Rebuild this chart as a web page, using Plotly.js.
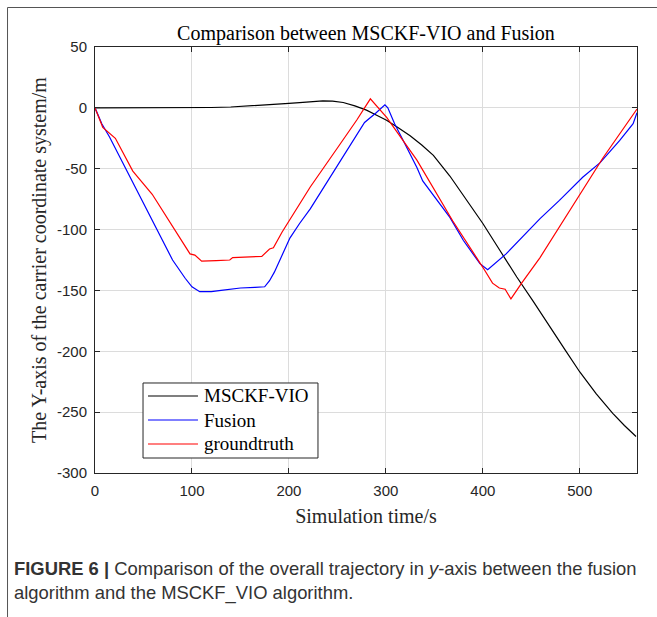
<!DOCTYPE html>
<html>
<head>
<meta charset="utf-8">
<script src="https://cdn.plot.ly/plotly-3.0.1.min.js"></script>
<style>
html,body{margin:0;padding:0;background:#fff;}
#chart{width:657px;height:617px;}
</style>
</head>
<body>
<div id="chart"></div>
<script>
// MSCKF-VIO
var vioT = [0,50,100,120,140,160,180,200,211,220,235,245,256,268,280,290,300.7,312,325,337,349,366,383,400,417.5,435,452,469,485,500,517,534,546,558];
var vioY = [0,0,0.1,0.3,0.7,1.5,2.5,3.7,4.3,5,5.7,5.5,4.4,1.6,-1.9,-5.8,-10.1,-16,-23,-30.5,-39,-56,-75,-95,-117,-139,-159,-180,-199,-217,-235,-251,-261,-270];
// Fusion
var fusT = [0,7,15,36,57,80,93,100,108,120,130,150,165,175,180,185,201,211,222,245,278,290,299,302,309,318,332,338,366,380,397,405,424,459,479,503,521,541,555,559];
var fusY = [0,-13,-24,-57,-90,-125,-140,-147,-151,-151,-150,-148,-147.5,-147,-142,-135,-107,-95,-83,-54,-12,-4,2.5,0,-13,-27,-49,-60,-90,-109,-128,-133,-120,-91,-76,-57,-45,-27,-13,-4];
// groundtruth
var gtT = [0,8,21,39,59,85,98,103,110,125,139,142,160,172,180,184,193,211,222,250,270,284,290,301,332,369,400,410,417,423,429,440,459,500,524,559];
var gtY = [0,-16,-25,-52,-71,-103,-120,-121,-126,-125.5,-125,-123,-122.5,-122,-116,-115,-102,-79,-65,-33,-10,7.4,2,-8,-43,-93,-131,-144,-148,-149,-157,-144,-123,-71,-41,-1];

var seriesNames = ["MSCKF-VIO", "Fusion", "groundtruth"];
var seriesColors = ["#000000", "#0000ff", "#ff0000"];

var xTicks = [0,100,200,300,400,500];
var yTicks = [50,0,-50,-100,-150,-200,-250,-300];

var serif = "Liberation Serif, Times New Roman, serif";
var sans = "Liberation Sans, Arial, sans-serif";

var xs = [vioT, fusT, gtT], ys = [vioY, fusY, gtY];
var traces = xs.map(function (t, i) {
  return {x: t, y: ys[i], name: seriesNames[i], mode: "lines", showlegend: false,
          line: {color: seriesColors[i], width: 1.2}};
});

var axisCommon = {
  showline: true, linecolor: "#262626", linewidth: 1, mirror: "ticks",
  ticks: "inside", ticklen: 5, tickcolor: "#262626",
  showgrid: true, gridcolor: "#dcdcdc", gridwidth: 1,
  zeroline: false, ticklabelstandoff: 4,
  tickfont: {family: sans, size: 15, color: "#262626"}
};

// custom legend (paper coordinates)
var legX0 = 0.0886, legX1 = 0.4114, legY0 = 0.0352, legY1 = 0.2113;
var legRowsY = [0.1808, 0.1244, 0.0681];
var shapes = [
  {type: "line", xref: "paper", yref: "paper", x0: -0.1614, x1: -0.1614, y0: -0.34, y1: 1.0927, line: {color: "#555", width: 1}},
  {type: "line", xref: "paper", yref: "paper", x0: -0.1614, x1: 1.04, y0: 1.0927, y1: 1.0927, line: {color: "#555", width: 1}},
  {type: "rect", xref: "paper", yref: "paper", x0: legX0, x1: legX1, y0: legY0, y1: legY1, fillcolor: "#ffffff", line: {color: "#262626", width: 1}}
];
var annotations = [];
seriesNames.forEach(function (n, i) {
  shapes.push({type: "line", xref: "paper", yref: "paper", x0: 0.0978, x1: 0.19, y0: legRowsY[i], y1: legRowsY[i], line: {color: seriesColors[i], width: 1.2}});
  annotations.push({xref: "paper", yref: "paper", x: 0.1974, y: legRowsY[i], xanchor: "left", yanchor: "middle", showarrow: false,
    text: n, font: {family: serif, size: 19, color: "#000"}});
});
annotations.push({xref: "paper", yref: "paper", x: -0.153, y: -0.195, xanchor: "left", yanchor: "top", align: "left",
  showarrow: false,
  text: "<b>FIGURE 6 |</b> Comparison of the overall trajectory in <i>y</i>-axis between the fusion<br>algorithm and the MSCKF_VIO algorithm.",
  font: {family: sans, size: 18.4, color: "#333333"}});

var layout = {
  width: 657, height: 617,
  margin: {l: 95, r: 20, t: 47, b: 144},
  paper_bgcolor: "#ffffff", plot_bgcolor: "#ffffff",
  showlegend: false,
  title: {text: "Comparison between MSCKF-VIO and Fusion", font: {family: serif, size: 20, color: "#000"}, x: 0.5, xref: "paper", xanchor: "center", y: 1, yref: "paper", yanchor: "bottom", pad: {b: 7}},
  xaxis: Object.assign({}, axisCommon, {
    range: [0, 559], tickvals: xTicks, ticktext: xTicks.map(String),
    title: {text: "Simulation time/s", font: {family: serif, size: 20, color: "#262626"}, standoff: 10}
  }),
  yaxis: Object.assign({}, axisCommon, {
    range: [-300, 50], tickvals: yTicks, ticktext: yTicks.map(String),
    title: {text: "The Y-axis of the carrier coordinate system/m", font: {family: serif, size: 20, color: "#262626"}, standoff: 4}
  }),
  shapes: shapes,
  annotations: annotations
};

Plotly.newPlot("chart", traces, layout, {displayModeBar: false, staticPlot: true});
</script>
</body>
</html>
